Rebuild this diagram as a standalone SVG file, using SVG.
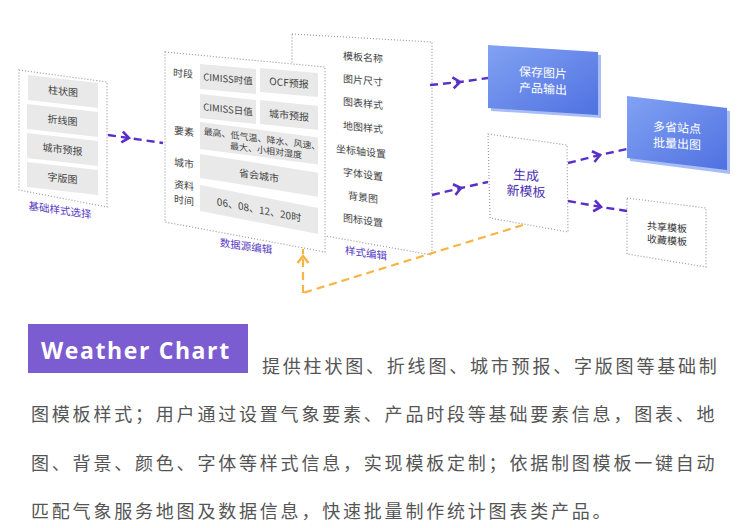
<svg xmlns="http://www.w3.org/2000/svg" width="750" height="528" viewBox="0 0 750 528">
<defs>
<style>
.dot{fill:#fff;stroke:#9a9a9a;stroke-width:1.2;stroke-dasharray:1 2}
.box{fill:#e9e9e9}
.t{font-family:"Noto Sans CJK SC","Liberation Sans",sans-serif;font-size:10px;fill:#444;text-anchor:middle}
.s9{font-size:9px}
.s95{font-size:9.5px}
.big{font-size:13px;fill:#4a2fb0}
.dk{fill:#333}
.lbl{font-family:"Noto Sans CJK SC",sans-serif;font-size:10.5px;fill:#5a3cc5;text-anchor:middle}
.wt{font-family:"Noto Sans CJK SC",sans-serif;font-size:12px;fill:#fff;text-anchor:middle}
.pu{fill:none;stroke:#5a2fc8;stroke-width:2.4;stroke-dasharray:8 5}
.or{fill:none;stroke:#f8b545;stroke-width:2.2;stroke-dasharray:8 5}
.para{font-family:"Noto Sans CJK SC",sans-serif;font-size:18px;fill:#555;letter-spacing:2.8px}
</style>
<linearGradient id="bg" x1="0" y1="0" x2="1" y2="1">
<stop offset="0" stop-color="#82a2f3"/>
<stop offset="1" stop-color="#4f71e0"/>
</linearGradient>
<marker id="ap" markerUnits="userSpaceOnUse" markerWidth="20" markerHeight="20" viewBox="-10 -10 20 20" refX="0" refY="0" orient="auto">
<path d="M-7,-5.5 L0,0 L-7,5.5" fill="none" stroke="#5a2fc8" stroke-width="2.6"/>
</marker>
<marker id="ao" markerUnits="userSpaceOnUse" markerWidth="20" markerHeight="20" viewBox="-10 -10 20 20" refX="0" refY="0" orient="auto">
<path d="M-7,-5.5 L0,0 L-7,5.5" fill="none" stroke="#f8b545" stroke-width="2.4"/>
</marker>
</defs>
<rect width="750" height="528" fill="#fff"/>

<g id="panel-basic">
<polygon class="dot" points="19,70 107,82 107,207 19,190"/>
<g transform="translate(28,75) skewY(6.5)"><rect class="box" width="70" height="25"/><text class="t" x="35" y="16">柱状图</text></g>
<g transform="translate(27,104) skewY(6.5)"><rect class="box" width="71" height="25"/><text class="t" x="35.5" y="16">折线图</text></g>
<g transform="translate(27,133) skewY(6.5)"><rect class="box" width="71" height="25"/><text class="t" x="35.5" y="16">城市预报</text></g>
<g transform="translate(27,162) skewY(6.5)"><rect class="box" width="71" height="25"/><text class="t" x="35.5" y="16">字版图</text></g>
<g transform="translate(60,214) skewY(8)"><text class="lbl" x="0" y="0">基础样式选择</text></g>
</g>

<g id="panel-style">
<polygon class="dot" points="292,34 432,42 432,255 292,230"/>
<g transform="translate(363,57) skewY(4)"><text class="t" y="4">模板名称</text></g>
<g transform="translate(363,80) skewY(5)"><text class="t" y="4">图片尺寸</text></g>
<g transform="translate(363,103) skewY(6)"><text class="t" y="4">图表样式</text></g>
<g transform="translate(363,127) skewY(6)"><text class="t" y="4">地图样式</text></g>
<g transform="translate(361,151) skewY(7)"><text class="t" y="4">坐标轴设置</text></g>
<g transform="translate(363,174) skewY(7)"><text class="t" y="4">字体设置</text></g>
<g transform="translate(363,197) skewY(8)"><text class="t" y="4">背景图</text></g>
<g transform="translate(363,220) skewY(8)"><text class="t" y="4">图标设置</text></g>
<g transform="translate(366,257) skewY(8)"><text class="lbl">样式编辑</text></g>
</g>

<g id="panel-data">
<polygon class="dot" points="165,52 325,67 325,252 165,222"/>
<g transform="translate(183,77) skewY(5)"><text class="t">时段</text></g>
<g transform="translate(184,135) skewY(7)"><text class="t">要素</text></g>
<g transform="translate(184,167) skewY(8)"><text class="t">城市</text></g>
<g transform="translate(184,189) skewY(9)"><text class="t">资料</text></g>
<g transform="translate(184,204) skewY(9)"><text class="t">时间</text></g>
<g transform="translate(200,64) skewY(5)"><rect class="box" width="56" height="25"/><text class="t s95" x="28" y="16">CIMISS时值</text></g>
<g transform="translate(260,68) skewY(5)"><rect class="box" width="58" height="24"/><text class="t" x="29" y="16">OCF预报</text></g>
<g transform="translate(200,94) skewY(6)"><rect class="box" width="56" height="24"/><text class="t s95" x="28" y="16">CIMISS日值</text></g>
<g transform="translate(260,100) skewY(6)"><rect class="box" width="58" height="24"/><text class="t" x="29" y="16">城市预报</text></g>
<g transform="translate(200,122) skewY(7.5)"><rect class="box" width="118" height="27"/><text class="t s9" x="62" y="12">最高、低气温、降水、风速、</text><text class="t s9" x="66" y="23">最大、小相对湿度</text></g>
<g transform="translate(200,154) skewY(9)"><rect class="box" width="118" height="24"/><text class="t" x="59" y="16">省会城市</text></g>
<g transform="translate(200,185) skewY(11)"><rect class="box" width="118" height="26"/><text class="t" x="59" y="17">06、08、12、20时</text></g>
<g transform="translate(246,250) skewY(8)"><text class="lbl">数据源编辑</text></g>
</g>

<g id="node-save">
<polygon points="491,48 601,55 601,118 491,111" fill="#a9bdf5"/>
<polygon points="488,45 598,52 598,115 488,108" fill="url(#bg)"/>
<g transform="translate(543,77) skewY(3)"><text class="wt">保存图片</text></g>
<g transform="translate(543,93) skewY(3)"><text class="wt">产品输出</text></g>
</g>

<g id="node-batch">
<polygon points="630,99 730,111 730,174 630,161" fill="#a9bdf5"/>
<polygon points="627,96 727,108 727,170 627,158" fill="url(#bg)"/>
<g transform="translate(677,132) skewY(3)"><text class="wt">多省站点</text></g>
<g transform="translate(677,148) skewY(3)"><text class="wt">批量出图</text></g>
</g>

<g id="node-new">
<polygon class="dot" points="488,134 567,145 568,232 490,218"/>
<g transform="translate(526,180) skewY(4)"><text class="t big">生成</text></g>
<g transform="translate(526,196) skewY(4)"><text class="t big">新模板</text></g>
</g>

<g id="node-share">
<polygon class="dot" points="627,198 706,208 706,267 627,254"/>
<g transform="translate(667,231) skewY(5)"><text class="t dk">共享模板</text></g>
<g transform="translate(667,244) skewY(5)"><text class="t dk">收藏模板</text></g>
</g>

<g id="connectors">
<polyline class="pu" points="108,135 129,138 163,143" marker-mid="url(#ap)"/>
<polyline class="pu" points="430,85 460,82 488,78" marker-mid="url(#ap)"/>
<polyline class="pu" points="432,195 461,188 488,182" marker-mid="url(#ap)"/>
<polyline class="pu" points="568,163 600,155 627,149" marker-mid="url(#ap)"/>
<polyline class="pu" points="568,201 601,207 627,211" marker-mid="url(#ap)"/>
<polyline class="or" points="523,225 303,293"/>
<polyline class="or" points="303,293 303,256 303,249" marker-mid="url(#ao)"/>
</g>

<g id="caption">
<rect x="28" y="324" width="220" height="49" fill="#7c5cd1"/>
<text x="41" y="359" font-family="'Open Sans','Liberation Sans',sans-serif" font-weight="bold" font-size="23" letter-spacing="1.6" fill="#fff">Weather Chart</text>
<text class="para" x="262" y="373">提供柱状图、折线图、城市预报、字版图等基础制</text>
<text class="para" x="31" y="421">图模板样式；用户通过设置气象要素、产品时段等基础要素信息，图表、地</text>
<text class="para" x="31" y="470">图、背景、颜色、字体等样式信息，实现模板定制；依据制图模板一键自动</text>
<text class="para" x="31" y="518">匹配气象服务地图及数据信息，快速批量制作统计图表类产品。</text>
</g>
</svg>
